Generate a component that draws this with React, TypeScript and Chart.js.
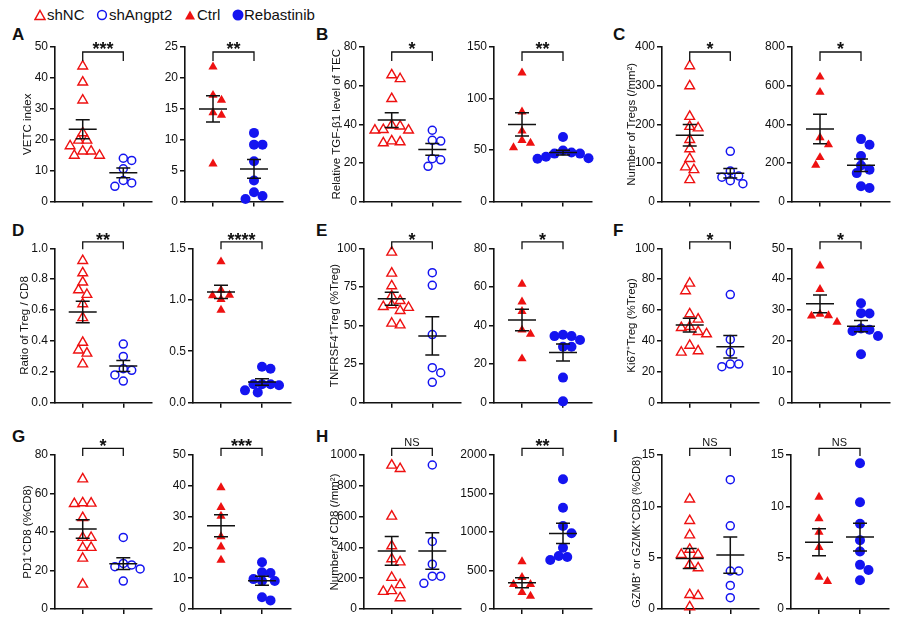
import React, { useEffect, useRef } from 'react';
import { Chart, registerables } from 'chart.js';

Chart.register(...registerables);

const FONT = '"Liberation Sans", Arial, Helvetica, sans-serif';
const RED = '#ee1111';
const BLUE = '#1414f0';
const INK = '#111111';

// ---- values per group (knockdown: shNC / shAngpt2, drug: Ctrl / Rebastinib) ----
// A  VETC index
const vetcShNC = [43.8, 38.6, 32.8, 22.2, 19.8, 19.8, 18.0, 16.3, 16.3, 14.9, 14.9];
const vetcShAngpt2 = [14.0, 13.3, 10.6, 6.8, 6.0, 4.9];
const vetcCtrl = [21.8, 17.2, 16.4, 14.4, 14.0, 6.1];
const vetcReb = [11.1, 9.2, 9.2, 6.5, 3.4, 1.5, 0.9, 0.4];
// B  TGF-β1 of TEC
const tgfShNC = [65.5, 63.5, 53.2, 39.5, 39.0, 37.2, 36.9, 36.9, 31.3, 30.8, 30.3];
const tgfShAngpt2 = [36.9, 31.7, 31.3, 22.2, 21.6, 18.2];
const tgfCtrl = [125, 87, 68.5, 59.4, 56.8, 52.3];
const tgfReb = [62.7, 49.5, 47.5, 46.5, 46.5, 43.5, 42.0, 41.5];
// C  Tregs per mm²
const tregShNC = [351, 299, 220, 194, 190, 160, 136, 111, 89, 82, 56];
const tregShAngpt2 = [130, 79, 66, 63, 54, 46];
const tregCtrl = [645, 566, 331, 294, 228, 189];
const tregReb = [323, 294, 235, 186, 165, 147, 79, 70];
// D  Treg / CD8 ratio
const ratioShNC = [0.92, 0.84, 0.78, 0.73, 0.7, 0.64, 0.55, 0.39, 0.34, 0.32, 0.25];
const ratioShAngpt2 = [0.38, 0.3, 0.22, 0.21, 0.18, 0.14];
const ratioCtrl = [1.37, 1.095, 1.046, 1.04, 1.004, 0.9];
const ratioReb = [0.35, 0.33, 0.18, 0.18, 0.18, 0.17, 0.12, 0.1];
// E  TNFRSF4+ Treg
const tnfShNC = [97.4, 83.8, 75.6, 69.1, 66.1, 63.3, 62.2, 61.6, 59.6, 51.4, 50.3];
const tnfShAngpt2 = [84.2, 76.0, 44.1, 22.7, 19.4, 13.2];
const tnfCtrl = [61.5, 52.3, 47.3, 37.7, 35.6, 22.8];
const tnfReb = [35.2, 34.5, 34.5, 32.5, 29.0, 29.0, 13.0, 0.7];
// F  Ki67+ Treg
const kiShNC = [77.3, 72.4, 57.5, 54.0, 49.2, 48.6, 46.0, 44.5, 37.1, 33.5, 32.6];
const kiShAngpt2 = [70, 41, 32.8, 25, 25, 23.3];
const kiCtrl = [44.3, 36.7, 28.7, 28.2, 28.1, 26.1];
const kiReb = [32.2, 29.0, 28.9, 24.0, 23.6, 23.2, 21.6, 15.7];
// G  PD1+ CD8
const pdShNC = [67.5, 55.1, 54.9, 54.7, 47.4, 37.1, 37.1, 31.9, 31.9, 26.3, 12.8];
const pdShAngpt2 = [37.2, 23.7, 22.9, 22.0, 20.8, 14.5];
const pdCtrl = [39.4, 33.0, 30.2, 23.5, 20.2, 15.9];
const pdReb = [15.2, 11.9, 11.7, 9.7, 9.1, 9.1, 3.8, 2.8];
// H  CD8 per mm²
const cd8ShNC = [933, 911, 602, 409, 325, 305, 204, 157, 118, 113, 72];
const cd8ShAngpt2 = [935, 439, 291, 213, 213, 167];
const cd8Ctrl = [615, 411, 320, 320, 217, 169];
const cd8Reb = [1685, 1316, 1078, 983, 796, 688, 675, 636];
// I  GZMB+ or GZMK+ CD8
const gzShNC = [10.7, 8.6, 7.2, 5.8, 5.3, 5.3, 4.3, 4.0, 1.4, 1.3, 0.2];
const gzShAngpt2 = [12.6, 8.1, 3.7, 3.7, 2.3, 1.1];
const gzCtrl = [10.9, 8.8, 7.5, 6.0, 3.1, 2.7];
const gzReb = [14.2, 10.4, 8.3, 6.7, 5.6, 4.3, 3.8, 2.8];

// axis maxima / steps and significance marks, knockdown then drug
const letters = ['A', 'B', 'C', 'D', 'E', 'F', 'G', 'H', 'I'];
const titles = [
  'VETC index',
  'Relative TGF-β1 level of TEC',
  'Number of Tregs (/mm²)',
  'Ratio of Treg / CD8',
  'TNFRSF4⁺Treg (%Treg)',
  'Ki67⁺Treg (%Treg)',
  'PD1⁺CD8 (%CD8)',
  'Number of CD8 (/mm²)',
  'GZMB⁺ or GZMK⁺CD8 (%CD8)',
];
const knockMax = [50, 80, 400, 1.0, 100, 100, 80, 1000, 15];
const knockStep = [10, 20, 100, 0.2, 25, 20, 20, 200, 5];
const drugMax = [25, 150, 800, 1.5, 80, 50, 50, 2000, 15];
const drugStep = [5, 50, 200, 0.5, 20, 10, 10, 500, 5];
const knockSig = ['***', '*', '*', '**', '*', '*', '*', 'NS', 'NS'];
const drugSig = ['**', '**', '*', '****', '*', '*', '***', '**', 'NS'];
const tickDigits = [0, 0, 0, 1, 0, 0, 0, 0, 0];

const knockData = [
  [vetcShNC, vetcShAngpt2], [tgfShNC, tgfShAngpt2], [tregShNC, tregShAngpt2],
  [ratioShNC, ratioShAngpt2], [tnfShNC, tnfShAngpt2], [kiShNC, kiShAngpt2],
  [pdShNC, pdShAngpt2], [cd8ShNC, cd8ShAngpt2], [gzShNC, gzShAngpt2],
];
const drugData = [
  [vetcCtrl, vetcReb], [tgfCtrl, tgfReb], [tregCtrl, tregReb],
  [ratioCtrl, ratioReb], [tnfCtrl, tnfReb], [kiCtrl, kiReb],
  [pdCtrl, pdReb], [cd8Ctrl, cd8Reb], [gzCtrl, gzReb],
];

// ---- page geometry ----
const ROW_TOP = [47, 248.3, 455];
const ROW_BOTTOM = [201.5, 402.7, 609];
const BRACKET = [
  { bar: 5, leg: 14, text: -2 },
  { bar: -6.5, leg: 1, text: -13 },
  { bar: -6.7, leg: 1, text: -13 },
];
const LEFT_TICK = [83, 392, 690];
const RIGHT_TICK = [[213, 221, 221], [522, 522, 522], [820, 820, 819]];
const TITLE_X = [[28, 25, 28], [337, 335, 335], [632, 632, 637]];
const LETTER_X = [12, 316, 613];
const LETTER_Y = [26, 222, 428];
const CAT_PX = 41; // distance between the two group positions
const PAD_TOP = 40;
const X_AXIS_H = 10;

function mean(v: number[]) {
  return v.reduce((s, x) => s + x, 0) / v.length;
}
function sem(v: number[]) {
  const m = mean(v);
  const sd = Math.sqrt(v.reduce((s, x) => s + (x - m) * (x - m), 0) / (v.length - 1));
  return sd / Math.sqrt(v.length);
}

// horizontal spread of overlapping symbols (pixel offsets from the group centre)
function swarm(values: number[], pxPerUnit: number, d = 8.5, step = 4.25): number[] {
  const order = values.map((_, i) => i).sort((i, j) => values[j] - values[i]);
  const placed: { x: number; y: number }[] = [];
  const out = values.map(() => 0);
  for (const i of order) {
    const y = values[i] * pxPerUnit;
    let chosen = 0;
    search: for (let k = 0; k < 40; k++) {
      const cands = k === 0 ? [0] : k % 2 ? [-k * step, k * step] : [k * step, -k * step];
      for (const c of cands) {
        if (placed.every((p) => Math.hypot(p.x - c, p.y - y) >= d)) {
          chosen = c;
          break search;
        }
      }
    }
    placed.push({ x: chosen, y });
    out[i] = chosen;
  }
  return out;
}

type SubProps = {
  groups: number[][];
  drug: boolean;
  yMax: number;
  step: number;
  digits: number;
  sig: string;
  title?: string;
  titleSize: number;
  titleX?: number;
  tick1: number;
  row: number;
};

function SubChart(p: SubProps) {
  const ref = useRef<HTMLCanvasElement>(null);
  const top = ROW_TOP[p.row];
  const bottom = ROW_BOTTOM[p.row];
  const plotH = bottom - top;
  const plotLeft = p.tick1 - 28;
  const plotRight = p.tick1 + CAT_PX + 29;
  const lineH = p.titleSize * 1.2;
  const canvasLeft = Math.round(p.title ? (p.titleX as number) - lineH / 2 : plotLeft - 40);
  const yWidth = plotLeft - canvasLeft;
  const canvasTop = Math.round(top - PAD_TOP);
  const padTop = top - canvasTop;
  const width = Math.round(plotRight + 6 - canvasLeft);
  const height = Math.round(bottom - canvasTop + X_AXIS_H + 2);
  const padBottom = height - (bottom - canvasTop) - X_AXIS_H;
  const padRight = width - (plotRight - canvasLeft);

  useEffect(() => {
    const pxPerUnit = plotH / p.yMax;
    const styles = [
      p.drug
        ? { pointStyle: 'triangle', pointRadius: 5.3, pointBorderWidth: 0, pointBackgroundColor: RED, pointBorderColor: RED }
        : { pointStyle: 'triangle', pointRadius: 5.6, pointBorderWidth: 1.4, pointBackgroundColor: 'rgba(0,0,0,0)', pointBorderColor: RED },
      p.drug
        ? { pointStyle: 'circle', pointRadius: 5, pointBorderWidth: 0, pointBackgroundColor: BLUE, pointBorderColor: BLUE }
        : { pointStyle: 'circle', pointRadius: 4, pointBorderWidth: 1.5, pointBackgroundColor: 'rgba(0,0,0,0)', pointBorderColor: BLUE },
    ];
    const datasets = p.groups.map((vals, g) => {
      const offs = swarm(vals, pxPerUnit);
      return {
        data: vals.map((v, i) => ({ x: g + 1 + offs[i] / CAT_PX, y: v })),
        showLine: false,
        clip: false,
        ...styles[g],
      };
    });
    const br = BRACKET[p.row];
    const overlay = {
      id: 'meanSemBracket',
      afterDatasetsDraw(chart: any) {
        const { ctx, scales } = chart;
        const xs = scales.x;
        const ys = scales.y;
        ctx.save();
        ctx.strokeStyle = INK;
        ctx.lineWidth = 1.5;
        p.groups.forEach((vals, g) => {
          const cx = xs.getPixelForValue(g + 1);
          const m = mean(vals);
          const s = sem(vals);
          const ym = ys.getPixelForValue(m);
          const yt = ys.getPixelForValue(m + s);
          const yb = ys.getPixelForValue(m - s);
          ctx.beginPath();
          ctx.moveTo(cx - 14, ym);
          ctx.lineTo(cx + 14, ym);
          ctx.moveTo(cx, yt);
          ctx.lineTo(cx, yb);
          ctx.moveTo(cx - 7, yt);
          ctx.lineTo(cx + 7, yt);
          ctx.moveTo(cx - 7, yb);
          ctx.lineTo(cx + 7, yb);
          ctx.stroke();
        });
        ctx.restore();
      },
      afterDraw(chart: any) {
        const { ctx, scales, chartArea } = chart;
        const x1 = scales.x.getPixelForValue(1);
        const x2 = scales.x.getPixelForValue(2);
        const by = chartArea.top + br.bar;
        const ly = chartArea.top + br.leg;
        ctx.save();
        ctx.strokeStyle = INK;
        ctx.lineWidth = 1.3;
        ctx.beginPath();
        ctx.moveTo(x1, ly);
        ctx.lineTo(x1, by);
        ctx.lineTo(x2, by);
        ctx.lineTo(x2, ly);
        ctx.stroke();
        const cy = chartArea.top + br.text;
        ctx.fillStyle = INK;
        ctx.textAlign = 'center';
        ctx.textBaseline = 'alphabetic';
        if (p.sig === 'NS') {
          ctx.font = `11px ${FONT}`;
          ctx.fillText(p.sig, (x1 + x2) / 2, cy + 4);
        } else {
          ctx.font = `bold 18px ${FONT}`;
          ctx.fillText(p.sig, (x1 + x2) / 2, cy + 10.3);
        }
        ctx.restore();
      },
    };

    const chart = new Chart(ref.current as HTMLCanvasElement, {
      type: 'scatter',
      data: { datasets: datasets as any },
      options: {
        animation: false,
        responsive: false,
        events: [],
        layout: { padding: { top: padTop, right: padRight, bottom: padBottom, left: 0 } },
        plugins: { legend: { display: false }, tooltip: { enabled: false } },
        scales: {
          x: {
            type: 'linear',
            min: 1 - 28 / CAT_PX,
            max: 2 + 29 / CAT_PX,
            afterBuildTicks: (s: any) => {
              s.ticks = [{ value: 1 }, { value: 2 }];
            },
            afterFit: (s: any) => {
              s.height = X_AXIS_H;
            },
            ticks: { display: false },
            grid: { display: true, drawOnChartArea: false, drawTicks: true, tickLength: 5, color: INK, lineWidth: 1.5 },
            border: { display: true, color: INK, width: 1.6 },
          },
          y: {
            type: 'linear',
            min: 0,
            max: p.yMax,
            afterFit: (s: any) => {
              s.width = yWidth;
            },
            ticks: {
              stepSize: p.step,
              color: INK,
              padding: 2,
              font: { family: FONT, size: 12 },
              callback: (v: any) => Number(v).toFixed(p.digits),
            },
            grid: { display: true, drawOnChartArea: false, drawTicks: true, tickLength: 5, color: INK, lineWidth: 1.5 },
            border: { display: true, color: INK, width: 1.6 },
            title: {
              display: !!p.title,
              text: p.title || '',
              color: INK,
              padding: 0,
              font: { family: FONT, size: p.titleSize, lineHeight: 1.2 },
            },
          },
        },
      },
      plugins: [overlay],
    } as any);
    return () => chart.destroy();
  }, []);

  return (
    <canvas
      ref={ref}
      width={width}
      height={height}
      style={{ position: 'absolute', left: canvasLeft, top: canvasTop, width, height }}
    />
  );
}

function LegendMark({ kind }: { kind: number }) {
  if (kind === 0)
    return (
      <svg width="12" height="12" style={{ display: 'block' }}>
        <polygon points="6,1.5 11,10.5 1,10.5" fill="none" stroke={RED} strokeWidth="1.5" />
      </svg>
    );
  if (kind === 1)
    return (
      <svg width="12" height="12" style={{ display: 'block' }}>
        <circle cx="6" cy="6" r="4.4" fill="none" stroke={BLUE} strokeWidth="1.5" />
      </svg>
    );
  if (kind === 2)
    return (
      <svg width="12" height="12" style={{ display: 'block' }}>
        <polygon points="6,1.5 11,10.5 1,10.5" fill={RED} />
      </svg>
    );
  return (
    <svg width="12" height="12" style={{ display: 'block' }}>
      <circle cx="6" cy="6" r="5.5" fill={BLUE} />
    </svg>
  );
}

const legendLabels = ['shNC', 'shAngpt2', 'Ctrl', 'Rebastinib'];
const LEGEND_X = [34, 96, 184, 232];

export default function App() {
  const subs: React.ReactNode[] = [];
  for (let i = 0; i < 9; i++) {
    const row = Math.floor(i / 3);
    const col = i % 3;
    subs.push(
      <SubChart
        key={`k${i}`}
        groups={knockData[i]}
        drug={false}
        yMax={knockMax[i]}
        step={knockStep[i]}
        digits={tickDigits[i]}
        sig={knockSig[i]}
        title={titles[i]}
        titleSize={i === 8 ? 11 : 11.5}
        titleX={TITLE_X[col][row]}
        tick1={LEFT_TICK[col]}
        row={row}
      />,
      <SubChart
        key={`d${i}`}
        groups={drugData[i]}
        drug={true}
        yMax={drugMax[i]}
        step={drugStep[i]}
        digits={tickDigits[i]}
        sig={drugSig[i]}
        titleSize={11.5}
        tick1={RIGHT_TICK[col][row]}
        row={row}
      />
    );
  }
  return (
    <div
      style={{
        position: 'fixed',
        left: 0,
        top: 0,
        width: 900,
        height: 623,
        background: '#fff',
        overflow: 'hidden',
        fontFamily: FONT,
        color: INK,
      }}
    >
      {legendLabels.map((label, k) => (
        <div
          key={label}
          style={{
            position: 'absolute',
            left: LEGEND_X[k],
            top: 5,
            height: 20,
            display: 'flex',
            alignItems: 'center',
            fontSize: 15,
            lineHeight: '20px',
            whiteSpace: 'nowrap',
          }}
        >
          <LegendMark kind={k} />
          <span style={{ marginLeft: k === 3 ? 0 : 1 }}>{label}</span>
        </div>
      ))}
      {letters.map((l, i) => (
        <div
          key={l}
          style={{
            position: 'absolute',
            left: LETTER_X[i % 3],
            top: LETTER_Y[Math.floor(i / 3)],
            fontSize: 17,
            fontWeight: 'bold',
            lineHeight: '17px',
          }}
        >
          {l}
        </div>
      ))}
      {subs}
    </div>
  );
}
